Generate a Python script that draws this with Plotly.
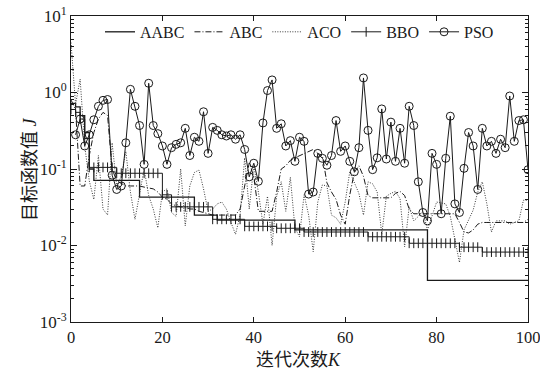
import plotly.graph_objects as go

iters = list(range(0, 101))
pso_iters = list(range(1, 101))

# AABC (step curve), values per iteration 0..100
aabc = ([0.72, 0.65, 0.5, 0.3, 0.1] + [0.071] * 10 + [0.043] * 12 + [0.025] * 5
        + [0.0215] * 17 + [0.016] * 29 + [0.0035] * 23)

abc = [0.8, 0.6, 0.06, 0.06, 0.15, 0.3, 0.45, 0.55, 0.5, 0.1,
       0.07, 0.065, 0.06, 0.06, 0.06, 0.06, 0.058, 0.056, 0.055, 0.05,
       0.043, 0.04, 0.035, 0.033, 0.032, 0.032, 0.03, 0.03, 0.028, 0.027,
       0.026, 0.025, 0.025, 0.025, 0.025, 0.025, 0.025, 0.03, 0.06, 0.12,
       0.08, 0.028, 0.028, 0.028, 0.028, 0.05, 0.1, 0.11, 0.13, 0.14,
       0.15, 0.16, 0.17, 0.18, 0.16, 0.15, 0.066, 0.05, 0.04, 0.025,
       0.019, 0.046, 0.09, 0.11, 0.08, 0.045, 0.042, 0.042, 0.042, 0.042,
       0.042, 0.048, 0.051, 0.045, 0.03, 0.026, 0.026, 0.026, 0.026, 0.026,
       0.026, 0.026, 0.026, 0.026, 0.026, 0.02, 0.015, 0.0146, 0.016, 0.019,
       0.02, 0.02, 0.02, 0.02, 0.02, 0.02, 0.02, 0.02, 0.02, 0.02, 0.022]

aco = [4.5, 0.7, 1.5, 0.2, 0.07, 0.04, 0.15, 0.03, 0.025, 0.22,
       0.06, 0.08, 0.17, 0.05, 0.022, 0.046, 0.1, 0.045, 0.03, 0.017,
       0.05, 0.055, 0.027, 0.024, 0.1, 0.018, 0.06, 0.09, 0.097, 0.055,
       0.028, 0.03, 0.035, 0.037, 0.03, 0.02, 0.014, 0.025, 0.14, 0.03,
       0.11, 0.05, 0.019, 0.044, 0.01, 0.044, 0.068, 0.028, 0.078, 0.017,
       0.013, 0.046, 0.025, 0.0083, 0.037, 0.062, 0.06, 0.025, 0.023, 0.019,
       0.037, 0.092, 0.068, 0.048, 0.025, 0.068, 0.064, 0.05, 0.014, 0.044,
       0.048, 0.051, 0.041, 0.0096, 0.032, 0.021, 0.024, 0.028, 0.016, 0.024,
       0.037, 0.036, 0.035, 0.024, 0.0115, 0.006, 0.016, 0.022, 0.029, 0.05,
       0.068, 0.035, 0.015, 0.021, 0.021, 0.021, 0.019, 0.02, 0.021, 0.039, 0.039]

bbo = ([0.6, 0.55, 0.45, 0.25] + [0.105] * 6 + [0.088] * 10 + [0.046] * 2
       + [0.032] * 9 + [0.022] * 7 + [0.0178] * 7 + [0.0168] * 6 + [0.015] * 14
       + [0.013] * 9 + [0.0107] * 11 + [0.0095] * 5 + [0.0082] * 11)

pso = [0.28, 0.45, 0.20, 0.28, 0.44, 0.66, 0.79, 0.81, 0.083, 0.054,
       0.060, 0.22, 1.1, 0.66, 0.37, 0.115, 1.32, 0.37, 0.29, 0.20,
       0.115, 0.19, 0.21, 0.22, 0.34, 0.15, 0.26, 0.23, 0.56, 0.16,
       0.35, 0.32, 0.28, 0.27, 0.28, 0.245, 0.28, 0.18, 0.079, 0.119,
       0.069, 0.40, 1.06, 1.46, 0.34, 0.39, 0.20, 0.235, 0.126, 0.26,
       0.23, 0.047, 0.050, 0.16, 0.138, 0.112, 0.15, 0.43, 0.17, 0.20,
       0.126, 0.092, 0.19, 1.55, 0.32, 0.098, 0.14, 0.61, 0.135, 0.41,
       0.126, 0.34, 0.119, 0.66, 0.37, 0.068, 0.027, 0.021, 0.16, 0.115,
       0.026, 0.138, 0.49, 0.035, 0.027, 0.102, 0.30, 0.20, 0.054, 0.34,
       0.20, 0.23, 0.16, 0.245, 0.19, 0.90, 0.23, 0.43, 0.44, 0.098]

ytick_vals = [1e-3, 1e-2, 1e-1, 1, 10]
ytick_text = ["10<sup>-3</sup>", "10<sup>-2</sup>", "10<sup>-1</sup>", "10<sup>0</sup>", "10<sup>1</sup>"]
xtick_vals = [0, 20, 40, 60, 80, 100]
x_title = "迭代次数<i>K</i>"
y_title = "目标函数值 <i>J</i>"

minor_vals = [m * 10 ** e for e in range(-3, 1) for m in range(2, 10)]

ink = "#1a1a1a"
serif = "Liberation Serif, Times New Roman, serif"
cjk = "Liberation Serif, Noto Sans CJK SC"

ML, MR, MT, MB = 71, 12, 16, 50
W, H = 540, 372
PW, PH = W - ML - MR, H - MT - MB

fig = go.Figure()
fig.add_trace(go.Scatter(x=iters, y=aabc, name="AABC", mode="lines", line_shape="hv",
                         line=dict(color=ink, width=1.3)))
fig.add_trace(go.Scatter(x=iters, y=abc, name="ABC", mode="lines",
                         line=dict(color=ink, width=1, dash="6px,2px,1px,2px")))
fig.add_trace(go.Scatter(x=iters, y=aco, name="ACO", mode="lines",
                         line=dict(color="#3a3a3a", width=1, dash="1px,1.5px")))
fig.add_trace(go.Scatter(x=iters, y=bbo, name="BBO", mode="lines+markers", line_shape="hv",
                         line=dict(color=ink, width=1),
                         marker=dict(symbol="line-ns-open", size=7, color=ink,
                                     line=dict(color=ink, width=1))))
fig.add_trace(go.Scatter(x=pso_iters, y=pso, name="PSO", mode="lines+markers",
                         line=dict(color=ink, width=1),
                         marker=dict(symbol="circle-open", size=8, color=ink,
                                     line=dict(color=ink, width=1))))

fig.update_layout(
    width=W, height=H,
    margin=dict(l=ML, r=MR, t=MT, b=MB),
    paper_bgcolor="white", plot_bgcolor="white",
    font=dict(family=serif, size=17, color=ink),
    showlegend=True,
    legend=dict(orientation="h", x=0.5, xanchor="center", y=0.948, yanchor="middle",
                bgcolor="rgba(0,0,0,0)", font=dict(family=serif, size=16, color=ink),
                itemwidth=30, tracegroupgap=0, entrywidth=0),
    annotations=[
        dict(text=y_title, textangle=-90, xref="paper", yref="paper",
             x=(30 - ML) / PW, y=0.5, xanchor="center", yanchor="middle",
             showarrow=False, font=dict(family=cjk, size=18, color=ink)),
        dict(text=x_title, xref="paper", yref="paper",
             x=(298 - ML) / PW, y=(MT + PH - 360) / PH, xanchor="center", yanchor="middle",
             showarrow=False, font=dict(family=cjk, size=18, color=ink)),
    ],
)
fig.update_xaxes(
    range=[0, 100], tickmode="array", tickvals=xtick_vals, automargin=False,
    ticklabeloverflow="allow",
    ticks="inside", ticklen=5, tickcolor=ink, showgrid=False, zeroline=False,
    showline=True, linecolor=ink, linewidth=1, mirror="allticks",
    tickfont=dict(family=serif, size=16.5, color=ink),
)
fig.update_yaxes(
    type="log", range=[-3, 1], tickmode="array", tickvals=ytick_vals, ticktext=ytick_text,
    automargin=False, ticklabeloverflow="allow",
    ticks="inside", ticklen=6, tickcolor=ink, showgrid=False, zeroline=False,
    showline=True, linecolor=ink, linewidth=1, mirror="allticks",
    tickfont=dict(family=serif, size=17, color=ink),
    minor=dict(tickmode="array", tickvals=minor_vals, ticks="inside", ticklen=3,
               tickcolor=ink, showgrid=False),
)

fig.write_html("out.html")
